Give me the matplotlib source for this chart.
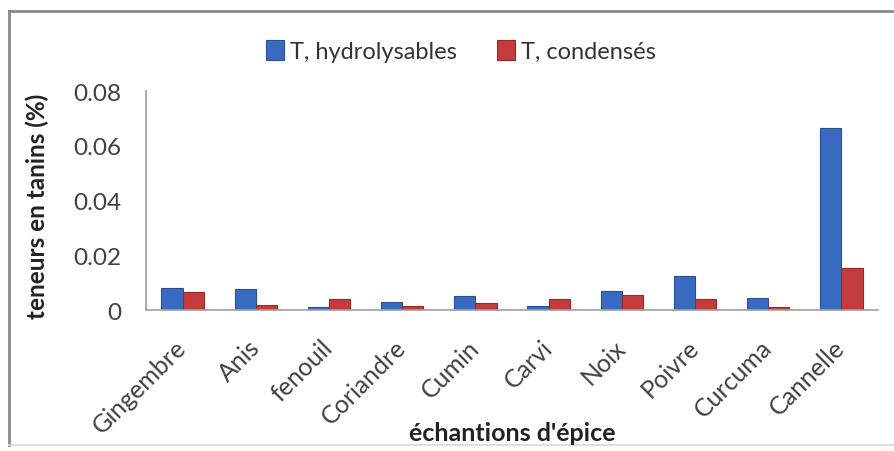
import matplotlib
matplotlib.use("Agg")
import matplotlib.pyplot as plt
import numpy as np
from matplotlib.lines import Line2D

categories = ["Gingembre", "Anis", "fenouil", "Coriandre", "Cumin",
              "Carvi", "Noix", "Poivre", "Curcuma", "Cannelle"]
hydrolysables = [0.008, 0.0075, 0.001, 0.003, 0.005,
                 0.0015, 0.007, 0.0125, 0.0045, 0.0665]
condenses = [0.0065, 0.002, 0.004, 0.0015, 0.0025,
             0.004, 0.0055, 0.004, 0.001, 0.0155]
yticks = [0, 0.02, 0.04, 0.06, 0.08]
ytick_labels = ["0", "0.02", "0.04", "0.06", "0.08"]

plt.rcParams['font.family'] = ['Lato', 'DejaVu Sans']

W, H = 895, 452
fig = plt.figure(figsize=(W / 100, H / 100), dpi=100)
fig.patch.set_facecolor("white")


def fx(px):
    return px / W


def fy(py):
    return 1 - py / H


# outer chart frame (left and top edges darker, bottom faint)
fig.add_artist(Line2D([fx(9), fx(9)], [fy(12), fy(446)], transform=fig.transFigure,
                      color="#8a8a8a", linewidth=2))
fig.add_artist(Line2D([fx(9), fx(900)], [fy(12), fy(12)], transform=fig.transFigure,
                      color="#8a8a8a", linewidth=2))
fig.add_artist(Line2D([fx(9), fx(900)], [fy(446), fy(446)], transform=fig.transFigure,
                      color="#d8d8d8", linewidth=1.2))

ax = fig.add_axes([fx(146), fy(311), 732 / W, 219 / H])

x = np.arange(len(categories))
w = 0.29
b1 = ax.bar(x - w / 2, hydrolysables, w, color="#386bbf", edgecolor="#2a4f90",
            linewidth=0.8, label="T, hydrolysables")
b2 = ax.bar(x + w / 2, condenses, w, color="#c43b3b", edgecolor="#962a2a",
            linewidth=0.8, label="T, condensés")

ax.set_xlim(-0.5, len(categories) - 0.5)
ax.set_ylim(0, 0.08)
ax.set_yticks(yticks)
ax.set_yticklabels(ytick_labels, fontsize=17.5, color="#404040")
ax.set_xticks(x)
ax.set_xticklabels(categories, rotation=45, ha="right", va="center",
                   rotation_mode="anchor", fontsize=18, color="#404040")
ax.tick_params(axis="y", length=0, pad=18)
ax.tick_params(axis="x", length=0, pad=24)

for side in ["top", "right"]:
    ax.spines[side].set_visible(False)
for side in ["left", "bottom"]:
    ax.spines[side].set_color("#a0a0a0")
    ax.spines[side].set_linewidth(1.2)

fig.text(fx(37), fy(206), "teneurs en tanins (%)", rotation=90,
         ha="center", va="center", fontsize=17.5, fontweight="bold", color="#222222")
fig.text(fx(512), fy(434), "échantions d'épice", ha="center", va="center",
         fontsize=18, fontweight="bold", color="#222222")

fig.legend(handles=[b1, b2], loc="center", bbox_to_anchor=(fx(461), fy(52)),
           ncol=2, frameon=False, fontsize=17, handlelength=0.75, handleheight=0.9,
           handletextpad=0.25, columnspacing=1.7, labelcolor="#333333")

fig.savefig("out.png", dpi=100, facecolor="white")
